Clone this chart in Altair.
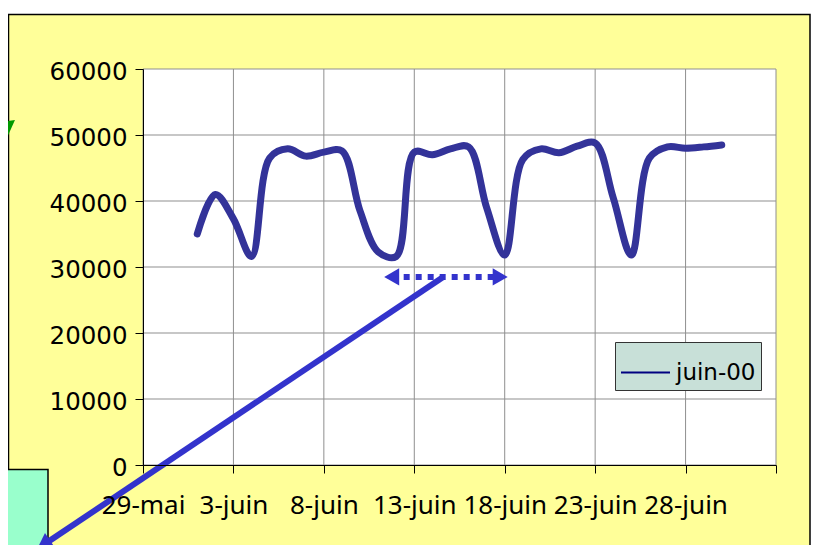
import json
import altair as alt
import pandas as pd

# ---------------- data ----------------
june_days = list(range(1, 31))          # 1..30 juin 2000
load_values = [35000, 41000, 37300, 31600, 46500, 47900, 46800, 47400, 47600, 38500,
               32300, 31600, 47400, 47000, 47900, 48200, 39000, 31800, 46300, 47900,
               47300, 48300, 48800, 40500, 31800, 46500, 48200, 48000, 48200, 48500]
series_name = "juin-00"

x_domain = [0, 35]                       # days after 29-mai
x_tick_days = [0, 5, 10, 15, 20, 25, 30, 35]
x_tick_labels = ["29-mai", "3-juin", "8-juin", "13-juin", "18-juin", "23-juin", "28-juin", ""]
y_domain = [0, 60000]
y_ticks = [0, 10000, 20000, 30000, 40000, 50000, 60000]

# annotations (data units)
dash_arrow_days = [13.75, 19.75]
dash_arrow_value = 28500
long_arrow_days = [16.6, -5.5]
long_arrow_values = [28500, -12100]

# ---------------- frames ----------------
day_offset = 2   # June d -> d + 2 days after 29-mai
line_df = pd.DataFrame({"day": [d + day_offset for d in june_days], "value": load_values})
legend_df = pd.DataFrame({"day": [june_days[0] + day_offset], "value": [load_values[0]], "serie": [series_name]})

xs = alt.Scale(domain=x_domain, nice=False, zero=False)
ys = alt.Scale(domain=y_domain, nice=False)

BLUE = "#3333CC"

frame = alt.Chart(pd.DataFrame({"k": [0]})).mark_rect(
    fill="#FFFF99", stroke="black", strokeWidth=1.5
).encode(x=alt.value(-134.5), x2=alt.value(667), y=alt.value(-54.5), y2=alt.value(481))

plot_bg = alt.Chart(pd.DataFrame({"x0": [x_domain[0]], "x1": [x_domain[1]],
                                  "y0": [y_domain[0]], "y1": [y_domain[1]]})).mark_rect(
    fill="white"
).encode(x=alt.X("x0:Q", scale=xs), x2="x1",
         y=alt.Y("y0:Q", scale=ys), y2="y1")

hgrid = alt.Chart(pd.DataFrame({"v": y_ticks})).mark_rule(color="#8f8f8f", strokeWidth=1).encode(
    y=alt.Y("v:Q", scale=ys))
vgrid = alt.Chart(pd.DataFrame({"d": x_tick_days})).mark_rule(color="#8f8f8f", strokeWidth=1).encode(
    x=alt.X("d:Q", scale=xs))

box = alt.Chart(pd.DataFrame({"k": [0]})).mark_rect(
    fill="#99FFCC", stroke="black", strokeWidth=1.5
).encode(x=alt.value(-143), x2=alt.value(-95), y=alt.value(400.5), y2=alt.value(490))

green = alt.Chart(pd.DataFrame({"k": [0]})).mark_point(
    shape="M-0.5,-0.43L0.57,-0.57L-0.14,1Z", size=784, filled=True, opacity=1, color="#009900"
).encode(x=alt.value(-136), y=alt.value(59))

main = alt.Chart(line_df).mark_line(
    color="#333399", strokeWidth=7, interpolate="catmull-rom", strokeJoin="round", strokeCap="round"
).encode(
    x=alt.X("day:Q", scale=xs, title=None, axis=alt.Axis(
        values=x_tick_days, grid=False, title=None, zindex=1,
        labelExpr=f"{json.dumps(x_tick_labels)}[indexof({json.dumps(x_tick_days)}, datum.value)]",
        labelFont="Noto Sans", labelFontSize=26, labelColor="black", labelPadding=19,
        labelOverlap=False, labelFlush=False,
        domainColor="black", domainWidth=1, tickColor="black", tickSize=8, tickWidth=1)),
    y=alt.Y("value:Q", scale=ys, title=None, axis=alt.Axis(
        values=y_ticks, format="d", grid=False, title=None, zindex=1,
        labelFont="DejaVu Sans", labelFontSize=24.5, labelColor="black", labelPadding=8,
        labelOffset=3,
        domainColor="black", domainWidth=1, tickColor="black", tickSize=8, tickWidth=1)),
)

legend_layer = alt.Chart(legend_df).mark_line(strokeWidth=2).encode(
    x=alt.X("day:Q", scale=xs),
    y=alt.Y("value:Q", scale=ys),
    color=alt.Color("serie:N", scale=alt.Scale(range=["#000080"]), legend=alt.Legend(
        orient="none", legendX=472, legendY=273, title=None,
        fillColor="#C8E0D8", strokeColor="#333333", padding=5,
        symbolType="stroke", symbolSize=2401, symbolStrokeWidth=2,
        labelFont="DejaVu Sans", labelFontSize=23, labelColor="black", labelOffset=5)),
)

dash_df = pd.DataFrame({"a": [dash_arrow_days[0]], "b": [dash_arrow_days[1]], "v": [dash_arrow_value]})
dash_line = alt.Chart(dash_df).mark_rule(color=BLUE, strokeWidth=6, strokeDash=[6, 6]).encode(
    x=alt.X("a:Q", scale=xs), x2="b", y=alt.Y("v:Q", scale=ys))
heads_df = pd.DataFrame({"d": dash_arrow_days, "v": [dash_arrow_value] * 2,
                         "s": ["triangle-left", "triangle-right"]})
dash_heads = alt.Chart(heads_df).mark_point(filled=True, opacity=1, color=BLUE, size=300).encode(
    x=alt.X("d:Q", scale=xs), y=alt.Y("v:Q", scale=ys),
    shape=alt.Shape("s:N", scale=None, legend=None))

long_df = pd.DataFrame({"d": long_arrow_days, "v": long_arrow_values})
long_line = alt.Chart(long_df).mark_line(color=BLUE, strokeWidth=6).encode(
    x=alt.X("d:Q", scale=xs), y=alt.Y("v:Q", scale=ys))
long_head = alt.Chart(long_df.iloc[[1]]).mark_point(
    shape="triangle-up", angle=236, size=330, filled=True, opacity=1, color=BLUE
).encode(x=alt.X("d:Q", scale=xs), y=alt.Y("v:Q", scale=ys))

chart = alt.layer(
    frame, plot_bg, hgrid, vgrid, box, green, main, legend_layer,
    dash_line, dash_heads, long_line, long_head
).properties(
    width=633, height=396,
    autosize=alt.AutoSizeParams(type="none"),
    padding={"left": 135, "top": 61, "right": 41, "bottom": 80},
).configure(background="white").configure_view(stroke=None)

chart.save("out.html", embed_options={"renderer": "svg", "actions": False})
